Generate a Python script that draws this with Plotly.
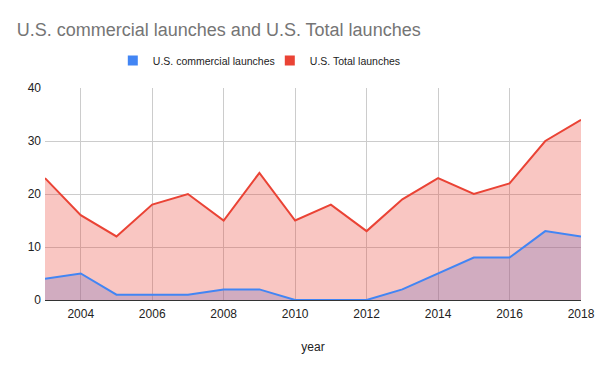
import plotly.graph_objects as go

years = list(range(2003, 2019))
commercial = [4, 5, 1, 1, 1, 2, 2, 0, 0, 0, 2, 5, 8, 8, 13, 12]
total = [23, 16, 12, 18, 20, 15, 24, 15, 18, 13, 19, 23, 20, 22, 30, 34]
x_ticks = [2004, 2006, 2008, 2010, 2012, 2014, 2016, 2018]
y_ticks = [0, 10, 20, 30, 40]

BLUE = "#4285F4"
RED = "#EA4335"
FONT = "Arial, 'Liberation Sans', sans-serif"

fig = go.Figure()
# fills: commercial first, total over it
fig.add_trace(go.Scatter(x=years, y=commercial, mode="none", fill="tozeroy",
                         showlegend=False, hoverinfo="skip",
                         fillcolor="rgba(66,133,244,0.3)"))
fig.add_trace(go.Scatter(x=years, y=total, mode="none", fill="tozeroy",
                         showlegend=False, hoverinfo="skip",
                         fillcolor="rgba(234,67,53,0.3)"))
# lines on top
fig.add_trace(go.Scatter(x=years, y=total, name="U.S. Total launches",
                         mode="lines", showlegend=False,
                         line=dict(color=RED, width=2)))
fig.add_trace(go.Scatter(x=years, y=commercial, name="U.S. commercial launches",
                         mode="lines", showlegend=False,
                         line=dict(color=BLUE, width=2)))
# legend entries with square swatches
fig.add_trace(go.Scatter(x=[None], y=[None], name="U.S. commercial launches",
                         mode="markers", marker=dict(symbol="square", size=10, color=BLUE),
                         legendrank=1))
fig.add_trace(go.Scatter(x=[None], y=[None], name="U.S. Total launches",
                         mode="markers", marker=dict(symbol="square", size=10, color=RED),
                         legendrank=2))

fig.update_layout(
    width=600, height=371,
    margin=dict(l=45, r=19, t=88, b=71, autoexpand=False),
    paper_bgcolor="white", plot_bgcolor="white",
    font=dict(family=FONT, size=12, color="#222222"),
    title=dict(text="U.S. commercial launches and U.S. Total launches",
               x=0.028, xanchor="left", y=0.92, yanchor="middle",
               font=dict(family=FONT, size=18, color="#757575")),
    legend=dict(orientation="h", x=0.1265, xanchor="left", y=1.13, yanchor="middle",
                font=dict(family=FONT, size=10.5, color="#222222"),
                entrywidth=112, entrywidthmode="pixels"),
    xaxis=dict(range=[2003, 2018], tickvals=x_ticks, showgrid=True, automargin=False,
               gridcolor="#cccccc", zeroline=False, ticks="", ticklabelstandoff=5,
               title=dict(text="year", font=dict(size=12, color="#222222"), standoff=22),
               tickfont=dict(size=12, color="#222222")),
    yaxis=dict(range=[0, 40], tickvals=y_ticks, showgrid=True, automargin=False,
               gridcolor="#cccccc", zeroline=True, zerolinecolor="#333333",
               zerolinewidth=1, ticks="", ticklabelstandoff=3,
               tickfont=dict(size=12, color="#222222")),
)

fig.write_html("out.html", config={"displayModeBar": False},
               post_script="document.body.style.margin='0';")
